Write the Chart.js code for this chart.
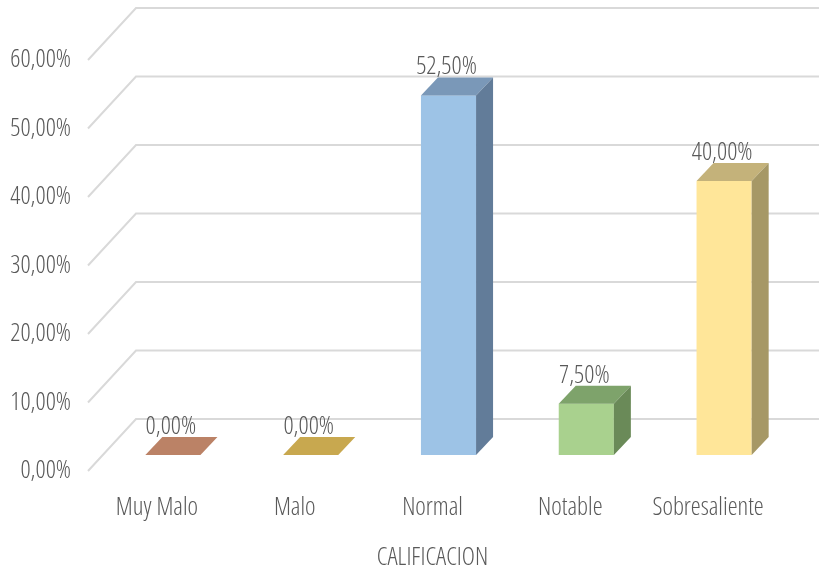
<!DOCTYPE html>
<html>
<head>
<meta charset="utf-8">
<script src="https://cdn.jsdelivr.net/npm/chart.js@4.4.0/dist/chart.umd.min.js"></script>
<style>
  html, body { margin: 0; padding: 0; background: #fff; }
  #wrap { width: 819px; height: 573px; }
</style>
</head>
<body>
<div id="wrap"><canvas id="calChart" width="819" height="573"></canvas></div>
<script>
// data
const categories = ["Muy Malo", "Malo", "Normal", "Notable", "Sobresaliente"];
const percentages = [0, 0, 52.5, 7.5, 40];
const tickValues = [0, 10, 20, 30, 40, 50, 60];

// colours for the three visible faces of each column
const frontColors = ["#c5896b", "#d4b25a", "#9dc3e6", "#a9d18e", "#ffe699"];
const topColors = ["#bb8266", "#c8a84f", "#7a98b8", "#7ea36b", "#c4b27a"];
const sideColors = ["#9a6a52", "#a68a40", "#627c99", "#6a8a58", "#a69866"];

const textColor = "#595959";
const fontFamily = "'Open Sans', 'Roboto Condensed', sans-serif";
const fontWeight = "350 condensed";
const fontSize = 25;

// oblique offsets of the fake 3d view
const toBarFront = { dx: 16, dy: -16 };
const barDepth = { dx: 17, dy: -18 };
const toBackWall = { dx: 48, dy: -52 };

function fmt(v) {
    return v.toFixed(2).replace(".", ",") + "%";
}

function poly(ctx, pts, color) {
    ctx.beginPath();
    ctx.moveTo(pts[0][0], pts[0][1]);
    for (let i = 1; i < pts.length; i++) ctx.lineTo(pts[i][0], pts[i][1]);
    ctx.closePath();
    ctx.fillStyle = color;
    ctx.fill();
}

const box3d = {
    id: "box3d",
    beforeDatasetsDraw(chart) {
        const ctx = chart.ctx;
        const y = chart.scales.y;
        const left = chart.chartArea.left;
        ctx.save();
        ctx.strokeStyle = "#d9d9d9";
        ctx.lineWidth = 2;
        tickValues.forEach(function (v) {
            const py = y.getPixelForValue(v);
            ctx.beginPath();
            ctx.moveTo(left, py);
            ctx.lineTo(left + toBackWall.dx, py + toBackWall.dy);
            ctx.lineTo(chart.width, py + toBackWall.dy);
            ctx.stroke();
        });
        ctx.restore();
    },
    afterDatasetsDraw(chart) {
        const ctx = chart.ctx;
        const meta = chart.getDatasetMeta(0);
        ctx.save();
        meta.data.forEach(function (bar, i) {
            const p = bar.getProps(["x", "y", "base", "width"], true);
            const x0 = p.x - p.width / 2 + toBarFront.dx;
            const x1 = p.x + p.width / 2 + toBarFront.dx;
            const yt = p.y + toBarFront.dy;
            const yb = p.base + toBarFront.dy;
            const bx = barDepth.dx, by = barDepth.dy;

            ctx.fillStyle = frontColors[i];
            ctx.fillRect(x0, yt, x1 - x0, yb - yt);
            poly(ctx, [[x0, yt], [x0 + bx, yt + by], [x1 + bx, yt + by], [x1, yt]], topColors[i]);
            poly(ctx, [[x1, yt], [x1 + bx, yt + by], [x1 + bx, yb + by], [x1, yb]], sideColors[i]);

            ctx.fillStyle = textColor;
            ctx.font = fontWeight + " " + fontSize + "px " + fontFamily;
            ctx.textAlign = "center";
            ctx.textBaseline = "alphabetic";
            ctx.fillText(fmt(percentages[i]), p.x + toBarFront.dx - 2, yt + by - 3);
        });
        ctx.restore();
    }
};

Chart.defaults.font.family = fontFamily;
Chart.defaults.font.weight = fontWeight;
Chart.defaults.font.size = fontSize;
Chart.defaults.color = textColor;

const ctx = document.getElementById("calChart").getContext("2d");
new Chart(ctx, {
    type: "bar",
    data: {
        labels: categories,
        datasets: [{
            data: percentages,
            backgroundColor: "rgba(0,0,0,0)",
            barPercentage: 0.4,
            categoryPercentage: 1
        }]
    },
    options: {
        responsive: false,
        animation: false,
        layout: { padding: { top: 60, right: 42, left: 0, bottom: 0 } },
        plugins: {
            legend: { display: false },
            tooltip: { enabled: false }
        },
        scales: {
            x: {
                grid: { display: false, drawTicks: false },
                border: { display: false },
                ticks: {
                    color: textColor,
                    padding: 22,
                    autoSkip: false,
                    maxRotation: 0,
                    minRotation: 0
                },
                title: {
                    display: true,
                    text: "CALIFICACION",
                    color: textColor,
                    padding: { top: 0, bottom: 0 }
                },
                afterFit(scale) { scale.height = 102; }
            },
            y: {
                min: 0,
                max: 60,
                afterBuildTicks(scale) {
                    scale.ticks = tickValues.map(v => ({ value: v }));
                },
                grid: { display: false, drawTicks: false },
                border: { display: false },
                ticks: {
                    color: textColor,
                    padding: 17,
                    callback: v => fmt(v)
                },
                afterFit(scale) { scale.width = 88; }
            }
        }
    },
    plugins: [box3d]
});
</script>
</body>
</html>
